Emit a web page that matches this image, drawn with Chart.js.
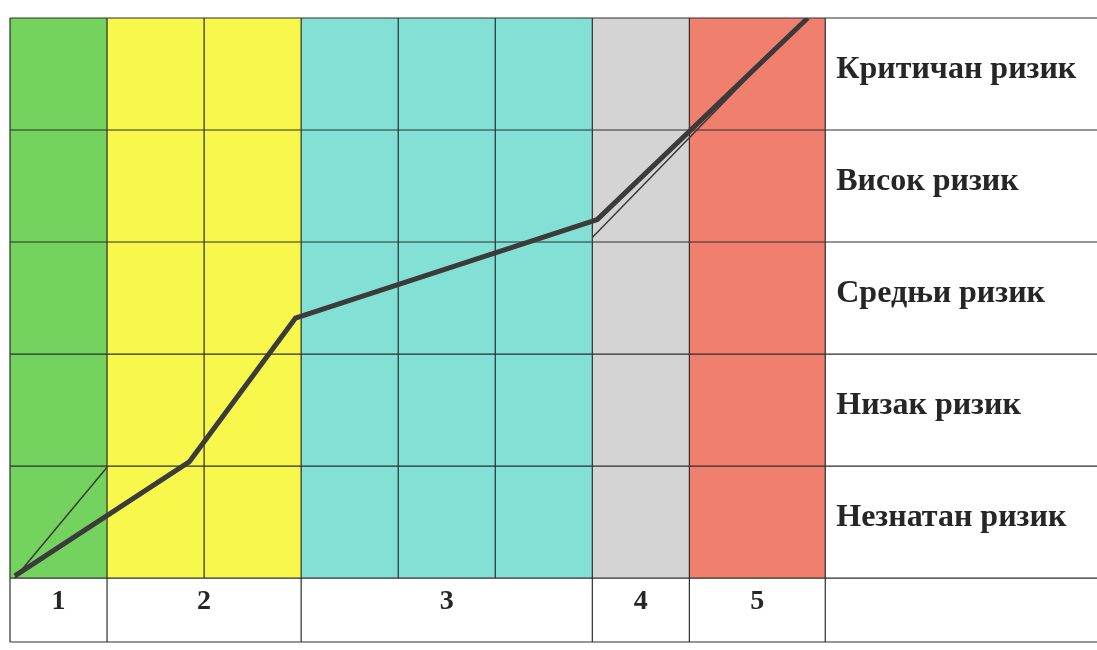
<!DOCTYPE html>
<html lang="sr">
<head>
  <meta charset="UTF-8">
  <title>Ризик</title>
  <script src="https://cdn.jsdelivr.net/npm/chart.js"></script>
  <style>
    html, body { margin: 0; padding: 0; background: #ffffff; }
    #wrap { position: relative; width: 1097px; height: 650px; }
  </style>
</head>
<body>
  <div id="wrap"><canvas id="riskChart"></canvas></div>

  <script>
    // Categories along the bottom and how many grid columns each one covers
    const groupLabels = ["1", "2", "3", "4", "5"];
    const groupSpans = [1, 2, 3, 1, 1.4];

    // Risk levels, bottom row first
    const riskLevels = ["Незнатан ризик", "Низак ризик", "Средњи ризик", "Висок ризик", "Критичан ризик"];

    // Hand-drawn risk curve (x in grid columns, y in risk rows)
    const curveX = [0.05, 1.85, 2.94, 6.05, 8.22];
    const curveY = [0.02, 1.04, 2.32, 3.20, 5.00];

    // Thin guide lines
    const guide1X = [0.05, 1.0];
    const guide1Y = [0.0, 0.99];
    const guide2X = [6.0, 8.2];
    const guide2Y = [3.04, 5.0];

    // styles
    const groupColors = ["#74d25e", "#f8f74c", "#82e0d5", "#d4d4d4", "#f07f6d"];
    const labelColumnWidth = 2.8;   // width of the white label column, in grid columns
    const bottomRowHeight = 0.571;  // height of the number row, in risk rows
    const gridColor = "#2e2e2e";

    const totalCols = groupSpans.reduce((a, b) => a + b, 0);

    function toPoints(xs, ys) {
      return xs.map((x, i) => ({ x: x, y: ys[i] }));
    }

    const tablePlugin = {
      id: "riskTable",
      beforeDatasetsDraw(chart) {
        const { ctx, scales: { x, y } } = chart;
        const yTop = y.getPixelForValue(riskLevels.length);
        const yZero = y.getPixelForValue(0);
        const yBottom = y.getPixelForValue(-bottomRowHeight);
        const xLeft = x.getPixelForValue(0);
        const xRight = x.getPixelForValue(totalCols + labelColumnWidth);
        ctx.save();

        // coloured column bands
        let start = 0;
        groupSpans.forEach((span, i) => {
          const x0 = x.getPixelForValue(start);
          const x1 = x.getPixelForValue(start + span);
          ctx.fillStyle = groupColors[i];
          ctx.fillRect(x0, yTop, x1 - x0, yZero - yTop);
          start += span;
        });

        ctx.strokeStyle = gridColor;
        ctx.lineWidth = 1.2;
        ctx.beginPath();
        // grid lines inside each group (coloured area only)
        start = 0;
        groupSpans.forEach(span => {
          for (let k = 1; k <= span - 1; k++) {
            const px = x.getPixelForValue(start + k);
            ctx.moveTo(px, yTop);
            ctx.lineTo(px, yZero);
          }
          start += span;
        });
        // group boundaries run down through the number row
        start = 0;
        [0].concat(groupSpans).forEach(span => {
          start += span;
          const px = x.getPixelForValue(start);
          ctx.moveTo(px, yTop);
          ctx.lineTo(px, yBottom);
        });
        // horizontal row lines
        for (let r = 0; r <= riskLevels.length; r++) {
          const py = y.getPixelForValue(r);
          ctx.moveTo(xLeft, py);
          ctx.lineTo(xRight, py);
        }
        ctx.moveTo(xLeft, yBottom);
        ctx.lineTo(xRight, yBottom);
        ctx.stroke();
        ctx.restore();
      },
      afterDraw(chart) {
        const { ctx, scales: { x, y } } = chart;
        ctx.save();
        ctx.fillStyle = "#262626";
        ctx.textBaseline = "middle";

        // risk level names in the right column
        ctx.font = "bold 32px 'Liberation Serif', 'DejaVu Serif', serif";
        ctx.textAlign = "left";
        const labelX = x.getPixelForValue(totalCols) + 11;
        riskLevels.forEach((name, r) => {
          ctx.fillText(name, labelX, y.getPixelForValue(r + 0.5) - 4);
        });

        // category numbers in the bottom row
        ctx.font = "bold 28px 'Liberation Serif', 'DejaVu Serif', serif";
        ctx.textAlign = "center";
        let start = 0;
        groupLabels.forEach((lab, i) => {
          const cx = x.getPixelForValue(start + groupSpans[i] / 2);
          ctx.fillText(lab, cx, y.getPixelForValue(-bottomRowHeight / 2) - 8);
          start += groupSpans[i];
        });
        ctx.restore();
      }
    };

    new Chart(document.getElementById("riskChart"), {
      type: "scatter",
      data: {
        datasets: [
          {
            label: "guide 1",
            data: toPoints(guide1X, guide1Y),
            showLine: true,
            borderColor: "#3a3a3a",
            borderWidth: 1.5,
            pointRadius: 0
          },
          {
            label: "guide 2",
            data: toPoints(guide2X, guide2Y),
            showLine: true,
            borderColor: "#3a3a3a",
            borderWidth: 1.5,
            pointRadius: 0
          },
          {
            label: "ризик",
            data: toPoints(curveX, curveY),
            showLine: true,
            borderColor: "#3b3b3b",
            borderWidth: 5,
            borderJoinStyle: "round",
            pointRadius: 0
          }
        ]
      },
      options: {
        responsive: true,
        maintainAspectRatio: false,
        animation: false,
        layout: { padding: { left: 10, top: 18, right: 0, bottom: 8 } },
        scales: {
          x: { type: "linear", min: 0, max: totalCols + labelColumnWidth, display: false },
          y: { type: "linear", min: -bottomRowHeight, max: riskLevels.length, display: false }
        },
        plugins: {
          legend: { display: false },
          tooltip: { enabled: false }
        }
      },
      plugins: [tablePlugin]
    });
  </script>
</body>
</html>
